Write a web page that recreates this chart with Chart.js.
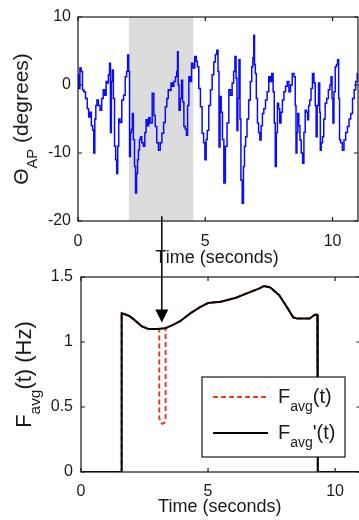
<!DOCTYPE html>
<html>
<head>
<meta charset="utf-8">
<script src="https://cdn.jsdelivr.net/npm/chart.js@4.4.1/dist/chart.umd.min.js"></script>
<style>
    html, body { margin: 0; padding: 0; background: #fff; width: 359px; height: 520px; overflow: hidden; }
    #topWrap { position: absolute; left: 0; top: 0; }
    #botWrap { position: absolute; left: 0; top: 200px; }
</style>
</head>
<body>
<div id="topWrap"><canvas id="topChart" width="359" height="270"></canvas></div>
<div id="botWrap"><canvas id="botChart" width="362" height="320"></canvas></div>
<script>
// ---- top panel: body angle signal ----
const timeTop = [0.00, 0.05, 0.10, 0.15, 0.20, 0.26, 0.33, 0.40, 0.44, 0.50, 0.55, 0.60, 0.64, 0.68, 0.72, 0.77, 0.83, 0.90, 0.96, 1.02,
    1.08, 1.13, 1.17, 1.22, 1.26, 1.29, 1.33, 1.37, 1.41, 1.46, 1.50, 1.54, 1.58, 1.62, 1.68, 1.76, 1.82, 1.89, 1.93, 1.97,
    2.01, 2.04, 2.08, 2.12, 2.15, 2.20, 2.24, 2.28, 2.32, 2.36, 2.39, 2.44, 2.48, 2.53, 2.60, 2.65, 2.70, 2.75, 2.80, 2.87,
    2.96, 3.00, 3.07, 3.12, 3.20, 3.26, 3.33, 3.40, 3.46, 3.52, 3.57, 3.63, 3.68, 3.73, 3.80, 3.86, 3.90, 3.92, 3.95, 3.99,
    4.04, 4.09, 4.13, 4.19, 4.24, 4.28, 4.33, 4.38, 4.43, 4.49, 4.55, 4.62, 4.67, 4.71, 4.78, 4.84, 4.91, 4.96, 5.01, 5.06,
    5.10, 5.17, 5.24, 5.30, 5.37, 5.42, 5.48, 5.52, 5.56, 5.60, 5.65, 5.70, 5.76, 5.82, 5.89, 5.96, 6.02, 6.09, 6.14, 6.19,
    6.23, 6.26, 6.30, 6.35, 6.38, 6.42, 6.48, 6.52, 6.56, 6.61, 6.67, 6.74, 6.80, 6.85, 6.89, 6.92, 6.95, 6.98, 7.03, 7.07,
    7.12, 7.17, 7.22, 7.27, 7.33, 7.40, 7.46, 7.53, 7.58, 7.64, 7.69, 7.73, 7.77, 7.81, 7.86, 7.90, 7.95, 8.00, 8.06, 8.12,
    8.19, 8.25, 8.32, 8.38, 8.45, 8.52, 8.55, 8.58, 8.62, 8.65, 8.70, 8.74, 8.80, 8.85, 8.90, 8.95, 9.00, 9.04, 9.08, 9.13,
    9.18, 9.24, 9.30, 9.34, 9.37, 9.42, 9.48, 9.51, 9.53, 9.58, 9.63, 9.68, 9.74, 9.80, 9.87, 9.92, 9.96, 10.00, 10.03, 10.08,
    10.13, 10.18, 10.22, 10.26, 10.29, 10.35, 10.42, 10.48, 10.55, 10.62, 10.68, 10.75, 10.82, 10.88, 10.94, 11.00];
const thetaAP = [1.5, -0.5, 2.5, 2.0, -0.7, -1.0, -2.0, -3.5, -4.7, -4.0, -6.0, -6.6, -10.0, -5.0, -3.0, -2.2, -3.0, -3.7, -2.0, -0.7,
    -1.5, 0.5, 0.3, 1.5, 3.2, -7.0, 0.5, 2.2, -2.0, -9.0, -11.0, -13.0, -9.0, -5.0, -5.5, -2.2, -1.5, 1.2, 2.0, 4.4,
    2.0, -10.5, -7.0, -6.5, -4.2, -8.0, -12.0, -15.9, -13.0, -11.0, -9.6, -8.0, -7.6, -8.5, -9.0, -7.0, -5.1, -6.0, -4.8, -5.6,
    -1.2, -4.5, -6.1, -8.5, -9.6, -8.5, -7.1, -5.5, -3.2, -2.0, -0.7, -0.8, 0.3, -0.2, 0.5, 1.2, 2.0, 4.9, 0.0, -3.7,
    -2.0, 0.7, -2.5, -6.1, -6.5, -7.4, -3.0, 1.2, 0.5, 3.2, 2.5, 4.2, 3.5, 2.7, -0.5, -3.2, -7.1, -8.5, -11.0, -8.0,
    -6.7, -3.0, -0.7, 1.5, 3.4, 4.5, 5.1, 2.0, -9.1, -1.7, -4.0, -8.0, -14.4, -9.0, -5.6, -0.7, -1.5, 0.3, 2.0, 4.2,
    1.0, -6.7, -2.0, 3.7, -5.0, -14.0, -17.4, -12.0, -9.0, -7.6, -5.0, -2.2, 0.5, 2.7, 4.0, 7.3, 3.0, 1.7, -2.0, -5.6,
    -7.0, -8.1, -6.0, -4.2, -3.5, -2.2, -1.0, 1.2, 0.5, 1.7, -1.0, -5.6, -12.0, -7.0, -2.7, -3.5, -5.6, -4.0, -2.2, -1.0,
    -0.2, 0.5, -1.0, 0.0, 1.7, 1.2, -3.0, -10.0, -7.0, -4.2, -6.0, -8.1, -10.0, -11.5, -7.0, -3.7, -4.0, -5.1, -3.0, -2.2,
    -0.5, 1.7, 0.3, -3.0, -7.6, -3.0, 0.3, -4.0, -9.6, -8.5, -7.6, -5.0, -2.7, -2.0, -0.7, 0.0, 1.2, -2.0, -5.6, -1.0,
    2.7, 3.0, 3.7, -2.0, -8.1, -8.5, -9.6, -8.1, -7.0, -6.1, -5.0, -4.2, -2.0, -0.7, 0.5, 1.7];
const shadeSpan = [2.0, 4.53];
const topXTicks = [0, 5, 10];
const topYTicks = [-20, -10, 0, 10];

// ---- bottom panel: average frequency ----
const timeF = [0, 1.6, 1.6, 1.7, 1.9, 2.1, 2.4, 2.65, 3.0, 3.08, 3.08, 3.12, 3.2, 3.29, 3.33, 3.33, 3.6, 3.9, 4.3, 4.7,
    5.0, 5.5, 6.1, 6.6, 7.0, 7.2, 7.45, 7.8, 8.1, 8.35, 8.5, 8.8, 9.0, 9.2, 9.3, 9.32, 11];
const fAvg = [0, 0, 1.22, 1.215, 1.2, 1.17, 1.12, 1.10, 1.10, 1.10, 0.42, 0.38, 0.37, 0.38, 0.42, 1.105, 1.13, 1.16, 1.22, 1.27,
    1.30, 1.31, 1.34, 1.38, 1.41, 1.43, 1.42, 1.36, 1.27, 1.19, 1.18, 1.18, 1.18, 1.21, 1.21, 0, 0];
const timeFp = [0, 1.6, 1.6, 1.7, 1.9, 2.1, 2.4, 2.65, 3.0, 3.3, 3.6, 3.9, 4.3, 4.7,
    5.0, 5.5, 6.1, 6.6, 7.0, 7.2, 7.45, 7.8, 8.1, 8.35, 8.5, 8.8, 9.0, 9.2, 9.3, 9.32, 11];
const fAvgPrime = [0, 0, 1.22, 1.215, 1.2, 1.17, 1.12, 1.10, 1.10, 1.105, 1.13, 1.16, 1.22, 1.27,
    1.30, 1.31, 1.34, 1.38, 1.41, 1.43, 1.42, 1.36, 1.27, 1.19, 1.18, 1.18, 1.18, 1.21, 1.21, 0, 0];
const botXTicks = [0, 5, 10];
const botYTicks = [0, 0.5, 1, 1.5];

// arrow from the shaded window (top: time, degrees) down to the dip (bottom: time, Hz)
const arrowFrom = [3.3, -19.3];
const arrowTo = [3.18, 1.15];

const FONT = "'Liberation Sans', Arial, sans-serif";
const INK = '#1a1a1a';

function toPoints(xs, ys) {
    return xs.map((x, i) => ({ x: x, y: ys[i] }));
}

// Draw text made of normal and subscript pieces
function drawRich(ctx, parts, x, y, size, align) {
    let w = 0;
    parts.forEach(p => {
        ctx.font = (p.sub ? size * 0.7 : size) + 'px ' + FONT;
        w += ctx.measureText(p.t).width;
    });
    let cx = align === 'center' ? x - w / 2 : x;
    ctx.textAlign = 'left';
    ctx.textBaseline = 'alphabetic';
    parts.forEach(p => {
        ctx.font = (p.sub ? size * 0.7 : size) + 'px ' + FONT;
        ctx.fillText(p.t, cx, y + (p.sub ? size * 0.42 : 0));
        cx += ctx.measureText(p.t).width;
    });
}

const decorPlugin = {
    id: 'decor',
    beforeDatasetsDraw(chart, args, opts) {
        if (!opts.shade) return;
        const ctx = chart.ctx;
        const a = chart.chartArea;
        const x1 = chart.scales.x.getPixelForValue(opts.shade[0]);
        const x2 = chart.scales.x.getPixelForValue(opts.shade[1]);
        ctx.save();
        ctx.fillStyle = '#dcdcdc';
        ctx.fillRect(x1, a.top, x2 - x1, a.bottom - a.top);
        ctx.restore();
    },
    afterDraw(chart, args, opts) {
        const ctx = chart.ctx;
        const a = chart.chartArea;
        const sx = chart.scales.x, sy = chart.scales.y;
        ctx.save();

        // box and inward ticks
        ctx.strokeStyle = INK;
        ctx.lineWidth = 1.2;
        ctx.strokeRect(a.left, a.top, a.right - a.left, a.bottom - a.top);
        ctx.beginPath();
        opts.xTicks.forEach(v => {
            const px = sx.getPixelForValue(v);
            ctx.moveTo(px, a.bottom); ctx.lineTo(px, a.bottom - 4);
            ctx.moveTo(px, a.top); ctx.lineTo(px, a.top + 4);
        });
        opts.yTicks.forEach(v => {
            const py = sy.getPixelForValue(v);
            ctx.moveTo(a.left, py); ctx.lineTo(a.left + 4, py);
            ctx.moveTo(a.right, py); ctx.lineTo(a.right - 4, py);
        });
        ctx.stroke();

        // axis titles
        ctx.fillStyle = INK;
        drawRich(ctx, [{ t: 'Time (seconds)' }], (a.left + a.right) / 2 - 1, opts.xTitleY, 18, 'center');
        ctx.save();
        ctx.translate(opts.yTitleX, (a.top + a.bottom) / 2);
        ctx.rotate(-Math.PI / 2);
        drawRich(ctx, opts.yTitle, 0, 0, opts.yTitleSize, 'center');
        ctx.restore();

        // legend box
        if (opts.legend) {
            const L = opts.legend;
            ctx.fillStyle = '#fff';
            ctx.fillRect(L.x, L.y, L.w, L.h);
            ctx.strokeStyle = INK;
            ctx.lineWidth = 1.2;
            ctx.strokeRect(L.x, L.y, L.w, L.h);
            chart.data.datasets.forEach((ds, i) => {
                const rowY = L.y + 20 + i * 36;
                ctx.strokeStyle = ds.borderColor;
                ctx.lineWidth = ds.borderWidth;
                ctx.setLineDash(ds.borderDash || []);
                ctx.beginPath();
                ctx.moveTo(L.x + 11, rowY);
                ctx.lineTo(L.x + 66, rowY);
                ctx.stroke();
                ctx.setLineDash([]);
                ctx.fillStyle = INK;
                drawRich(ctx, L.labels[i], L.x + 76, rowY + 6, 20, 'left');
            });
        }

        // arrow linking the two panels
        if (opts.arrow) {
            const ax = sx.getPixelForValue(arrowTo[0]);
            const tip = sy.getPixelForValue(arrowTo[1]);
            const tail = topChart.scales.y.getPixelForValue(arrowFrom[1]) - 200;
            ctx.strokeStyle = '#000';
            ctx.fillStyle = '#000';
            ctx.lineWidth = 1.5;
            ctx.beginPath();
            ctx.moveTo(ax, tail);
            ctx.lineTo(ax, tip - 12);
            ctx.stroke();
            ctx.beginPath();
            ctx.moveTo(ax - 6.5, tip - 13);
            ctx.lineTo(ax + 6.5, tip - 13);
            ctx.lineTo(ax, tip);
            ctx.closePath();
            ctx.fill();
        }
        ctx.restore();
    }
};

function axisOptions(min, max, tickValues, pad, size, labels) {
    return {
        type: 'linear',
        min: min,
        max: max,
        grid: { display: false, drawTicks: false },
        border: { display: false },
        afterBuildTicks: scale => { scale.ticks = tickValues.map(v => ({ value: v })); },
        afterFit: scale => {
            if (size.width) scale.width = size.width;
            if (size.height) scale.height = size.height;
        },
        ticks: {
            padding: pad,
            color: INK,
            font: { family: FONT, size: 16 },
            maxRotation: 0,
            callback: v => labels ? labels[tickValues.indexOf(v)] : String(v)
        }
    };
}

const topChart = new Chart(document.getElementById('topChart'), {
    type: 'line',
    data: {
        datasets: [{
            data: toPoints(timeTop, thetaAP),
            borderColor: '#0a0aff',
            borderWidth: 1.5,
            pointRadius: 0,
            stepped: 'middle'
        }]
    },
    options: {
        responsive: false,
        animation: false,
        layout: { padding: { left: 0, right: 1, top: 17, bottom: 0 } },
        plugins: {
            legend: { display: false },
            tooltip: { enabled: false },
            decor: {
                shade: shadeSpan,
                xTicks: topXTicks,
                yTicks: topYTicks,
                xTitleY: 263,
                yTitleX: 28,
                yTitleSize: 21,
                yTitle: [{ t: 'Θ' }, { t: 'AP', sub: true }, { t: ' (degrees)' }]
            }
        },
        scales: {
            x: axisOptions(0, 11, topXTicks, 11, { height: 49 }),
            y: axisOptions(-20, 10, topYTicks, 7, { width: 78 })
        }
    },
    plugins: [decorPlugin]
});

const botChart = new Chart(document.getElementById('botChart'), {
    type: 'line',
    data: {
        datasets: [
            {
                label: 'Favg(t)',
                data: toPoints(timeF, fAvg),
                borderColor: '#e2401e',
                borderWidth: 2,
                borderDash: [5, 3],
                pointRadius: 0,
                tension: 0,
                order: 2
            },
            {
                label: "Favg'(t)",
                data: toPoints(timeFp, fAvgPrime),
                borderColor: '#000000',
                borderWidth: 2,
                pointRadius: 0,
                tension: 0,
                order: 1
            }
        ]
    },
    options: {
        responsive: false,
        animation: false,
        layout: { padding: { left: 0, right: 1.5, top: 77, bottom: 0 } },
        plugins: {
            legend: { display: false },
            tooltip: { enabled: false },
            decor: {
                xTicks: botXTicks,
                yTicks: botYTicks,
                xTitleY: 312,
                yTitleX: 31,
                yTitleSize: 22,
                yTitle: [{ t: 'F' }, { t: 'avg', sub: true }, { t: '(t) (Hz)' }],
                arrow: true,
                legend: {
                    x: 202, y: 177, w: 143, h: 80,
                    labels: [
                        [{ t: 'F' }, { t: 'avg', sub: true }, { t: '(t)' }],
                        [{ t: 'F' }, { t: 'avg', sub: true }, { t: "'(t)" }]
                    ]
                }
            }
        },
        scales: {
            x: axisOptions(0, 11, botXTicks, 10, { height: 48 }),
            y: axisOptions(0, 1.5, botYTicks, 8, { width: 81 }, ['0', '0.5', '1', '1.5'])
        }
    },
    plugins: [decorPlugin]
});
</script>
</body>
</html>
